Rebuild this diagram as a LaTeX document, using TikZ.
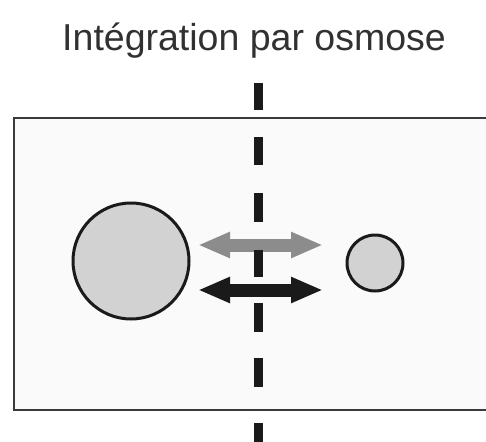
\documentclass[tikz,border=0pt]{standalone}
\usepackage{fontspec}
\setmainfont{Liberation Sans}
\usetikzlibrary{arrows.meta}
\definecolor{bodyfill}{HTML}{D2D2D2}
\definecolor{inkdark}{HTML}{1A1A1A}
\definecolor{framegray}{HTML}{3A3A3A}
\definecolor{flowgray}{HTML}{8C8C8C}
\tikzset{
  body/.style={circle, draw=inkdark, line width=3pt, fill=bodyfill, inner sep=0pt},
  flow/.style={line width=13pt, {Triangle[length=32pt,width=24pt]}-{Triangle[length=32pt,width=24pt]}},
  membrane/.style={inkdark, line width=9pt},
}
\begin{document}
\begin{tikzpicture}[x=1pt, y=-1pt]
  \useasboundingbox (0,0) rectangle (486,441);
  \clip (0,0) rectangle (486,441);
  \fill[white] (0,0) rectangle (486,441);

  % title
  \node[font=\fontsize{37.5}{44}\selectfont, text=inkdark!90, anchor=base] (title) at (254,51) {Intégration par osmose};

  % compartment
  \draw[framegray, line width=2pt, fill=white!98!black] (14,118) rectangle (500,410);

  % two bodies
  \node[body, minimum size=116pt] (big) at (131,261) {};
  \node[body, minimum size=56pt] (small) at (375,263) {};

  % exchange arrows
  \coordinate (gl) at (198,245);
  \coordinate (gr) at (323,245);
  \coordinate (bl) at (198,290);
  \coordinate (br) at (323,290);
  \draw[flow, flowgray] (gl) -- (gr);

  % dashed membrane
  \foreach \a/\b in {83/110, 137/165, 193/222, 250/277, 303/332, 358/387, 423/450}
    \draw[membrane] (258.5,\a) -- (258.5,\b);

  \draw[flow, inkdark] (bl) -- (br);
\end{tikzpicture}
\end{document}
